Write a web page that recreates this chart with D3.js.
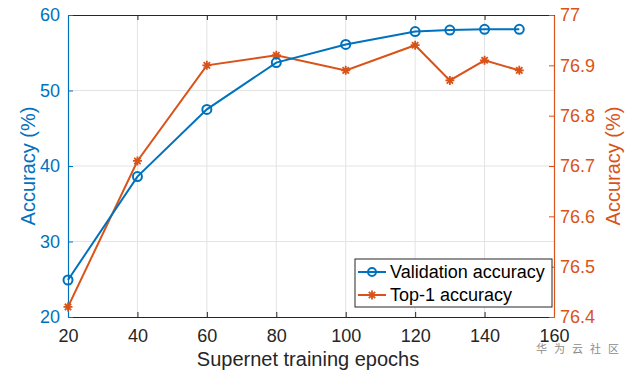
<!DOCTYPE html>
<html>
<head>
<meta charset="utf-8">
<script src="https://d3js.org/d3.v7.min.js"></script>
<style>
  body { margin: 0; background: #fff; }
  text { font-family: "Liberation Sans", Arial, sans-serif; }
</style>
</head>
<body>
<div id="chart"></div>
<script>
// data
const epochs = [20, 40, 60, 80, 100, 120, 130, 140, 150]
const valAcc = [24.9, 38.6, 47.5, 53.7, 56.1, 57.8, 58.0, 58.1, 58.1]
const top1Acc = [76.42, 76.71, 76.90, 76.92, 76.89, 76.94, 76.87, 76.91, 76.89]
const xTicks = [20, 40, 60, 80, 100, 120, 140, 160]
const leftTicks = [20, 30, 40, 50, 60]
const rightTicks = [76.4, 76.5, 76.6, 76.7, 76.8, 76.9, 77]

const blue = "#0072BD", orange = "#D95319"
const W = 633, H = 371
const margin = { top: 15, right: 79, bottom: 54, left: 68 }
const width = W - margin.left - margin.right,
      height = H - margin.top - margin.bottom

const svg = d3.select("#chart").append("svg")
    .attr("width", W).attr("height", H)
const g = svg.append("g")
    .attr("transform", "translate(" + margin.left + "," + margin.top + ")")

const x = d3.scaleLinear().domain([20, 160]).range([0, width])
const yL = d3.scaleLinear().domain([20, 60]).range([height, 0])
const yR = d3.scaleLinear().domain([76.4, 77]).range([height, 0])

// grid
g.append("g").selectAll("line").data(xTicks.slice(1, -1)).enter().append("line")
    .attr("x1", d => x(d)).attr("x2", d => x(d))
    .attr("y1", 0).attr("y2", height)
    .attr("stroke", "#e3e3e3").attr("stroke-width", 1)
g.append("g").selectAll("line").data(leftTicks.slice(1, -1)).enter().append("line")
    .attr("x1", 0).attr("x2", width)
    .attr("y1", d => yL(d)).attr("y2", d => yL(d))
    .attr("stroke", "#e3e3e3").attr("stroke-width", 1)

// axes
const tickLen = 5
const xb = g.append("g").attr("transform", "translate(0," + height + ")")
    .call(d3.axisBottom(x).tickValues(xTicks).tickSizeInner(-tickLen).tickSizeOuter(0).tickPadding(12))
const xt = g.append("g")
    .call(d3.axisTop(x).tickValues(xTicks).tickSizeInner(-tickLen).tickSizeOuter(0).tickFormat(""))
const yl = g.append("g")
    .call(d3.axisLeft(yL).tickValues(leftTicks).tickSizeInner(-tickLen).tickSizeOuter(0).tickPadding(8))
const yr = g.append("g").attr("transform", "translate(" + width + ",0)")
    .call(d3.axisRight(yR).tickValues(rightTicks).tickSizeInner(-tickLen).tickSizeOuter(0).tickPadding(6)
        .tickFormat(d => d3.format("")(+d.toFixed(1))))

;[xb, xt].forEach(a => {
    a.select(".domain").attr("stroke", "#262626").attr("stroke-width", 1.2)
    a.selectAll(".tick line").attr("stroke", "#262626")
    a.selectAll("text").attr("fill", "#262626").style("font-size", "18px")
})
yl.select(".domain").attr("stroke", blue).attr("stroke-width", 1.2)
yl.selectAll(".tick line").attr("stroke", blue)
yl.selectAll("text").attr("fill", blue).style("font-size", "18px")
yr.select(".domain").attr("stroke", orange).attr("stroke-width", 1.2)
yr.selectAll(".tick line").attr("stroke", orange)
yr.selectAll("text").attr("fill", orange).style("font-size", "18px")
xb.selectAll("text").attr("dy", "0.71em")

// axis labels
g.append("text").attr("x", width / 2 - 3).attr("y", height + 49)
    .attr("text-anchor", "middle").attr("fill", "#262626")
    .style("font-size", "20px").text("Supernet training epochs")
g.append("text").attr("transform", "translate(-33," + height / 2 + ")rotate(-90)")
    .attr("text-anchor", "middle").attr("fill", blue)
    .style("font-size", "20px").text("Accuracy (%)")
g.append("text").attr("transform", "translate(" + (width + 66) + "," + height / 2 + ")rotate(-90)")
    .attr("text-anchor", "middle").attr("fill", orange)
    .style("font-size", "20px").text("Accuracy (%)")

// lines
const valData = epochs.map((e, i) => ({ x: e, y: valAcc[i] }))
const topData = epochs.map((e, i) => ({ x: e, y: top1Acc[i] }))

const starPath = (s) => {
    const d = s * 0.707
    return "M" + (-s) + ",0L" + s + ",0M0," + (-s) + "L0," + s +
        "M" + (-d) + "," + (-d) + "L" + d + "," + d + "M" + (-d) + "," + d + "L" + d + "," + (-d)
}

g.append("path").datum(topData)
    .attr("fill", "none").attr("stroke", orange).attr("stroke-width", 2)
    .attr("d", d3.line().x(d => x(d.x)).y(d => yR(d.y)))
g.append("g").selectAll("path").data(topData).enter().append("path")
    .attr("transform", d => "translate(" + x(d.x) + "," + yR(d.y) + ")")
    .attr("d", starPath(4.5))
    .attr("stroke", orange).attr("stroke-width", 1.8).attr("fill", "none")

g.append("path").datum(valData)
    .attr("fill", "none").attr("stroke", blue).attr("stroke-width", 2)
    .attr("d", d3.line().x(d => x(d.x)).y(d => yL(d.y)))
g.append("g").selectAll("circle").data(valData).enter().append("circle")
    .attr("cx", d => x(d.x)).attr("cy", d => yL(d.y)).attr("r", 4.5)
    .attr("fill", "none").attr("stroke", blue).attr("stroke-width", 2)

// legend
const lg = svg.append("g").attr("transform", "translate(355,259)")
lg.append("rect").attr("width", 197).attr("height", 48)
    .attr("fill", "#fff").attr("stroke", "#262626").attr("stroke-width", 1)
const items = [
    { name: "Validation accuracy", color: blue, mark: "o" },
    { name: "Top-1 accuracy", color: orange, mark: "*" }
]
items.forEach((it, i) => {
    const yy = 13 + i * 23
    lg.append("line").attr("x1", 3).attr("x2", 31).attr("y1", yy).attr("y2", yy)
        .attr("stroke", it.color).attr("stroke-width", 2)
    if (it.mark === "o") {
        lg.append("circle").attr("cx", 17).attr("cy", yy).attr("r", 4)
            .attr("fill", "none").attr("stroke", it.color).attr("stroke-width", 2)
    } else {
        lg.append("path").attr("transform", "translate(17," + yy + ")")
            .attr("d", starPath(4.5)).attr("stroke", it.color).attr("stroke-width", 1.8)
    }
    lg.append("text").attr("x", 35).attr("y", yy).attr("dy", "0.35em")
        .attr("fill", "#000").style("font-size", "18px").text(it.name)
})

// watermark
svg.append("text").attr("x", 536).attr("y", 353)
    .attr("fill", "#8c8c8c").style("font-size", "11px")
    .style("font-family", "'Noto Sans CJK SC', sans-serif")
    .style("letter-spacing", "7px").text("华为云社区")
</script>
</body>
</html>
